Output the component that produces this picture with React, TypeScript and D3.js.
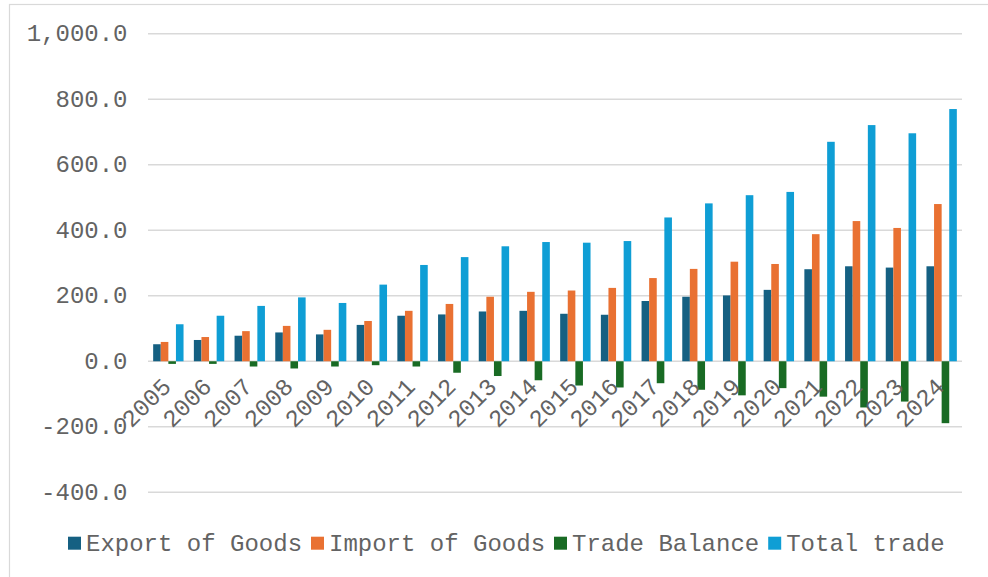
import React from "react";
import * as d3 from "d3";

// Annual goods trade figures
const years = [
  "2005", "2006", "2007", "2008", "2009", "2010", "2011", "2012", "2013", "2014",
  "2015", "2016", "2017", "2018", "2019", "2020", "2021", "2022", "2023", "2024",
];
const exportGoods = [52, 65, 78, 88, 82, 111, 139, 143, 152, 154, 145, 142, 184, 197, 201, 218, 281, 290, 286, 290];
const importGoods = [59, 74, 92, 108, 96, 123, 154, 175, 197, 212, 216, 224, 254, 282, 304, 297, 388, 428, 407, 480];
const tradeBalance = [-8, -8, -16, -22, -16, -12, -16, -35, -45, -58, -74, -80, -67, -87, -104, -82, -108, -141, -123, -189];
const totalTrade = [113, 139, 169, 195, 178, 234, 294, 318, 351, 364, 362, 367, 439, 482, 507, 517, 670, 721, 696, 770];

const seriesNames = ["Export of Goods", "Import of Goods", "Trade Balance", "Total trade"];
const seriesValues = [exportGoods, importGoods, tradeBalance, totalTrade];
const seriesColors = ["#156082", "#E97132", "#196B24", "#0F9ED5"];

const yTicks = [-400, -200, 0, 200, 400, 600, 800, 1000];

const W = 988;
const H = 577;
const FONT = "'Liberation Mono', 'Courier New', monospace";
const FS = 24;
const TEXT = "#636363";
const GRID = "#d9d9d9";

const locale = d3.formatLocale({
  decimal: ".",
  thousands: ",",
  grouping: [3],
  currency: ["", ""],
  minus: "-",
});
const fmt = locale.format(",.1f");

export default function App() {
  const plotLeft = 148;
  const plotRight = 962;

  const x0 = d3.scaleBand<string>().domain(years).range([plotLeft, plotRight]).padding(0);
  const x1 = d3
    .scaleBand<string>()
    .domain(seriesNames)
    .range([0, x0.bandwidth()])
    .paddingInner(0)
    .paddingOuter(0.68);
  const y = d3.scaleLinear().domain([-400, 1000]).range([492.3, 33.7]);
  const y0 = y(0);

  // legend layout
  const charW = FS * 0.6;
  const legendY = 543;
  let lx = 68;
  const legendItems = seriesNames.map((name, i) => {
    const item = { name, color: seriesColors[i], x: lx };
    lx += 13 + 5 + name.length * charW + 9;
    return item;
  });

  return (
    <svg
      width={W}
      height={H}
      style={{ position: "absolute", left: 0, top: 0, background: "#fff" }}
      fontFamily={FONT}
    >
      <rect x={0} y={0} width={W} height={H} fill="#fff" />
      <rect x={9.5} y={4.5} width={W + 20} height={H + 20} fill="none" stroke={GRID} strokeWidth={1.2} />

      {/* gridlines */}
      {yTicks.map((t) => (
        <line
          key={"g" + t}
          x1={plotLeft}
          x2={plotRight}
          y1={y(t)}
          y2={y(t)}
          stroke={GRID}
          strokeWidth={1.5}
        />
      ))}

      {/* y axis labels */}
      {yTicks.map((t) => (
        <text
          key={"yl" + t}
          x={127.5}
          y={y(t)}
          dy={7.6}
          textAnchor="end"
          fontSize={FS}
          fill={TEXT}
        >
          {fmt(t)}
        </text>
      ))}

      {/* bars */}
      {seriesNames.map((name, si) => (
        <g key={name} fill={seriesColors[si]}>
          {years.map((yr, i) => {
            const v = seriesValues[si][i];
            const bx = (x0(yr) as number) + (x1(name) as number);
            const top = Math.min(y(v), y0);
            const h = Math.abs(y(v) - y0);
            return <rect key={yr} x={bx} y={top} width={x1.bandwidth()} height={h} />;
          })}
        </g>
      ))}

      {/* x axis labels */}
      {years.map((yr) => {
        const cx = (x0(yr) as number) + x0.bandwidth() / 2 + 4;
        const cy = 388;
        return (
          <text
            key={"xl" + yr}
            x={cx}
            y={cy}
            transform={`rotate(-45 ${cx} ${cy})`}
            textAnchor="end"
            fontSize={FS}
            fill={TEXT}
          >
            {yr}
          </text>
        );
      })}

      {/* legend */}
      {legendItems.map((it) => (
        <g key={it.name}>
          <rect x={it.x} y={legendY - 6.3} width={13} height={13} fill={it.color} />
          <text x={it.x + 18} y={legendY + 7.5} fontSize={FS} fill={TEXT}>
            {it.name}
          </text>
        </g>
      ))}
    </svg>
  );
}
